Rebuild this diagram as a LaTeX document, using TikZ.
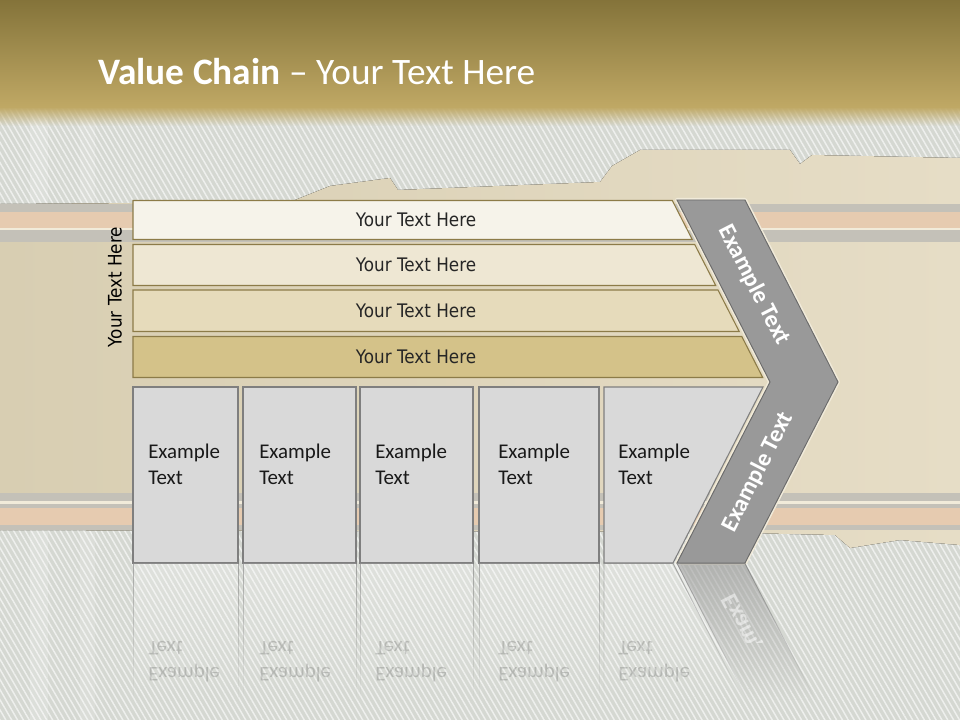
\documentclass[tikz,border=0pt]{standalone}
\usepackage{fontspec}
\setmainfont{Carlito}
\newfontfamily\tah[FakeStretch=0.9]{DejaVu Sans}
\usetikzlibrary{fadings,patterns.meta}
\definecolor{topdark}{HTML}{84733A}
\definecolor{toplight}{HTML}{C0A965}
\definecolor{weave}{HTML}{D5D8D2}
\definecolor{parchL}{HTML}{D8CEB2}
\definecolor{parchR}{HTML}{E6DDC6}
\definecolor{stripegray}{HTML}{C4C1B8}
\definecolor{peach}{HTML}{E6CBB0}
\definecolor{barline}{HTML}{8C7B48}
\definecolor{barA}{HTML}{F6F3EA}
\definecolor{barB}{HTML}{EEE7D3}
\definecolor{barC}{HTML}{E6DBBB}
\definecolor{barD}{HTML}{D4C289}
\definecolor{boxfill}{HTML}{D9D9D9}
\definecolor{boxline}{HTML}{7F7F7F}
\definecolor{chev}{HTML}{999999}
\definecolor{chevline}{HTML}{6B6B6B}
\definecolor{cream}{HTML}{F1EBDA}
\tikzfading[name=bandfade, top color=transparent!0, bottom color=transparent!100]
\tikzfading[name=reflfade, top color=transparent!40, middle color=transparent!78, bottom color=transparent!100]
\begin{document}
\begin{tikzpicture}[x=0.75pt,y=-0.75pt,
  barshape/.style={draw=barline, line width=0.8pt},
  boxshape/.style={draw=boxline, fill=boxfill, line width=0.8pt},
  bartext/.style={font=\tah\fontsize{14}{17}\selectfont, text=black!85, inner sep=0pt},
  boxtext/.style={font=\fontsize{15.7}{19.5}\selectfont, align=left, anchor=west, text=black!90, inner sep=0pt},
  chevtext/.style={font=\bfseries\fontsize{18}{22}\selectfont, text=white, inner sep=0pt},
  reflbox/.style={draw=boxline, fill=white, fill opacity=0.4, line width=0.7pt, path fading=reflfade}]
\useasboundingbox (0,0) rectangle (960,720);
% ---------- background ----------
\fill[weave] (0,0) rectangle (960,720);
\fill[pattern={Lines[angle=-60,distance=3.8pt,line width=1.1pt]}, pattern color=white, opacity=0.6] (0,0) rectangle (960,720);
\fill[white, opacity=0.18] (30,110) rectangle (48,720);
\fill[white, opacity=0.15] (80,110) rectangle (95,720);
\fill[left color=parchL, right color=parchR]
  (0,204) -- (290,202) -- (330,186) -- (390,178) -- (398,190) -- (600,182) -- (612,166) -- (640,150)
  -- (790,150) -- (800,164) -- (812,155) -- (960,158) -- (960,545) -- (900,540) -- (850,548)
  -- (835,535) -- (700,532) -- (0,530) -- cycle;
% top stripes
\fill[stripegray] (0,204) rectangle (960,212);
\fill[peach] (0,212) rectangle (960,228);
\fill[cream] (0,228) rectangle (960,230);
\fill[stripegray] (0,230) rectangle (960,242);
% bottom stripes
\fill[stripegray] (0,493) rectangle (960,501);
\fill[cream] (0,501) rectangle (960,504);
\fill[stripegray] (0,504) rectangle (960,508);
\fill[peach] (0,508) rectangle (960,525);
\fill[stripegray] (0,525) rectangle (960,530);
% top band
\fill[top color=topdark, bottom color=toplight] (0,0) rectangle (960,108);
\fill[toplight, path fading=bandfade] (0,107) rectangle (960,126);
\node[anchor=base west, text=white, font=\fontsize{28}{34}\selectfont, inner sep=0pt] (title) at (98,85) {\textbf{Value Chain} – Your Text Here};
% ---------- bars ----------
\path[barshape, fill=barA] (133,200.5) -- (672.3,200.5) -- (692.2,239.5) -- (133,239.5) -- cycle;
\path[barshape, fill=barB] (133,244.5) -- (694.7,244.5) -- (715.7,285.5) -- (133,285.5) -- cycle;
\path[barshape, fill=barC] (133,290) -- (718,290) -- (739.2,331.5) -- (133,331.5) -- cycle;
\path[barshape, fill=barD] (133,336.5) -- (741.8,336.5) -- (762.7,377.5) -- (133,377.5) -- cycle;
\node[bartext] (t1) at (416,219.5) {Your Text Here};
\node[bartext] (t2) at (416,264.5) {Your Text Here};
\node[bartext] (t3) at (416,310.5) {Your Text Here};
\node[bartext] (t4) at (416,356.5) {Your Text Here};
\node[bartext, text=black, rotate=90] (side) at (115,287) {Your Text Here};
% ---------- boxes ----------
\path[boxshape] (133,387) rectangle (238,563);
\path[boxshape] (243,387) rectangle (356,563);
\path[boxshape] (360,387) rectangle (473,563);
\path[boxshape] (479,387) rectangle (599,563);
\path[boxshape] (604,387) -- (763,387) -- (673,563) -- (604,563) -- cycle;
\node[boxtext] (b1) at (148,464) {Example\\Text};
\node[boxtext] (b2) at (259,464) {Example\\Text};
\node[boxtext] (b3) at (375,464) {Example\\Text};
\node[boxtext] (b4) at (498,464) {Example\\Text};
\node[boxtext] (b5) at (618,464) {Example\\Text};
% ---------- chevron ----------
\draw[cream, line width=3pt, line join=round] (677,200) -- (745,200) -- (838,382) -- (745,563) -- (677,563) -- (770,382) -- cycle;
\path[fill=chev, draw=chevline, line width=0.7pt] (677,200) -- (745,200) -- (838,382) -- (745,563) -- (677,563) -- (770,382) -- cycle;
\node[chevtext, rotate=-63] (c1) at (754,285) {Example Text};
\node[chevtext, rotate=63] (c2) at (758,472) {Example Text};
% ---------- reflection ----------
\path[reflbox] (133,563.5) rectangle (238,700);
\path[reflbox] (243,563.5) rectangle (356,700);
\path[reflbox] (360,563.5) rectangle (473,700);
\path[reflbox] (479,563.5) rectangle (599,700);
\path[reflbox] (604,563.5) -- (673,563.5) -- (743,700) -- (604,700) -- cycle;
\path[fill=white, path fading=reflfade] (674,563.5) -- (680,563.5) -- (750,700) -- (744,700) -- cycle;
\path[fill=chev, draw=chevline, line width=0.7pt, path fading=reflfade] (677,563.5) -- (745,563.5) -- (815.6,700) -- (747.6,700) -- cycle;
\node[boxtext, yscale=-1, text opacity=0.18] (r1) at (148,662) {Example\\Text};
\node[boxtext, yscale=-1, text opacity=0.18] (r2) at (259,662) {Example\\Text};
\node[boxtext, yscale=-1, text opacity=0.18] (r3) at (375,662) {Example\\Text};
\node[boxtext, yscale=-1, text opacity=0.18] (r4) at (498,662) {Example\\Text};
\node[boxtext, yscale=-1, text opacity=0.18] (r5) at (618,662) {Example\\Text};
\begin{scope}
  \clip (680,563) rectangle (860,642);
  \node[chevtext, rotate=-63, yscale=-1, text opacity=0.5] (rc) at (758,654) {Example Text};
\end{scope}
\end{tikzpicture}
\end{document}
